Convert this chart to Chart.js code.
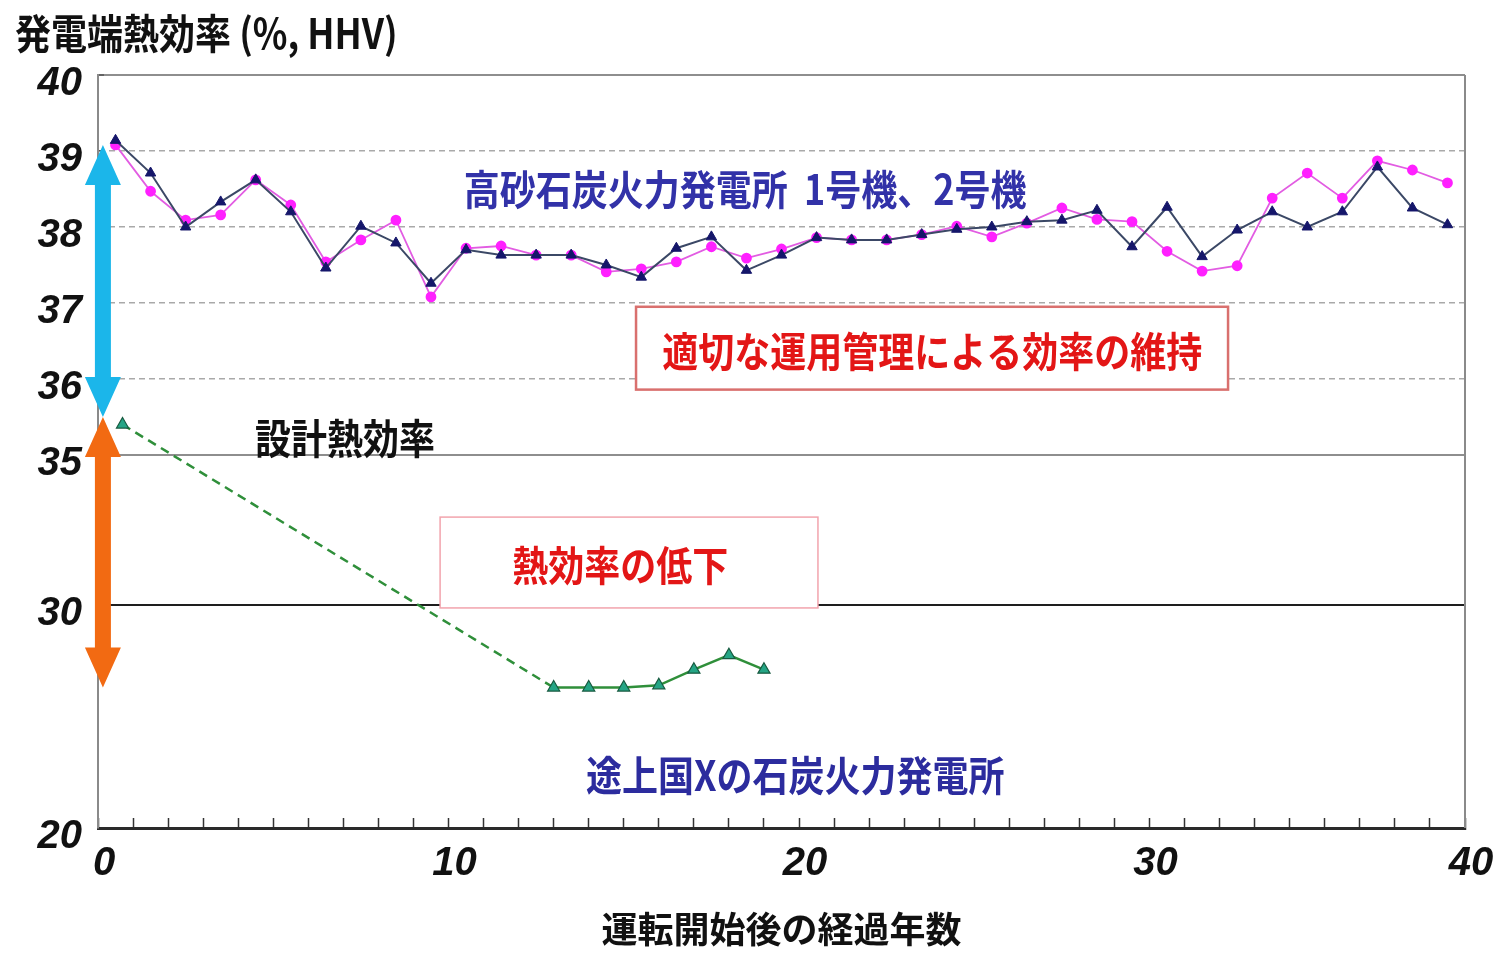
<!DOCTYPE html>
<html>
<head>
<meta charset="utf-8">
<script src="https://cdn.jsdelivr.net/npm/chart.js@4.4.1/dist/chart.umd.min.js"></script>
<style>
html,body{margin:0;padding:0;background:#fff;}
canvas{display:block;}
</style>
</head>
<body>
<canvas id="c" width="1504" height="953"></canvas>
<script>
// ---------------- data ----------------
const years = [0.5,1.5,2.5,3.5,4.5,5.5,6.5,7.5,8.5,9.5,10.5,11.5,12.5,13.5,14.5,15.5,16.5,17.5,18.5,19.5,
               20.5,21.5,22.5,23.5,24.5,25.5,26.5,27.5,28.5,29.5,30.5,31.5,32.5,33.5,34.5,35.5,36.5,37.5,38.5];
const takasagoUnit1 = [39.14,38.71,38.00,38.33,38.62,38.20,37.46,38.01,37.79,37.26,
                       37.70,37.63,37.63,37.63,37.50,37.34,37.72,37.87,37.43,37.63,
                       37.86,37.83,37.83,37.90,37.97,38.00,38.07,38.09,38.22,37.74,
                       38.26,37.61,37.96,38.20,38.00,38.20,38.79,38.25,38.03];
const takasagoUnit2 = [39.08,38.47,38.09,38.16,38.62,38.29,37.54,37.83,38.09,37.08,
                       37.72,37.75,37.63,37.63,37.41,37.45,37.54,37.74,37.59,37.71,
                       37.86,37.83,37.83,37.90,38.01,37.87,38.05,38.25,38.10,38.07,
                       37.68,37.42,37.49,38.38,38.71,38.38,38.87,38.75,38.58];
const devCountryYears  = [0.7, 13, 14, 15, 16, 17, 18, 19];
const devCountryValues = [35.4, 26.3, 26.3, 26.3, 26.4, 27.1, 27.75, 27.1];

const yTickValues = [20, 30, 35, 36, 37, 38, 39, 40];
const xTickValues = [0, 10, 20, 30, 39];
const xTickLabels = ['0', '10', '20', '30', '40'];

const yAxisTitle = '発電端熱効率 (%, HHV)';
const xAxisTitle = '運転開始後の経過年数';

// ---------------- broken (piecewise) y scale ----------------
const Y_BREAK_VALUES = [20, 30, 35, 40];
const Y_BREAK_FRACS  = [0, 0.2961, 0.4954, 1];

class BrokenLinearScale extends Chart.LinearScale {
  valueToFrac(v) {
    const bv = Y_BREAK_VALUES, bf = Y_BREAK_FRACS, n = bv.length - 1;
    if (v <= bv[0]) return bf[0] + (v - bv[0]) * (bf[1] - bf[0]) / (bv[1] - bv[0]);
    for (let i = 0; i < n; i++) {
      if (v <= bv[i + 1]) return bf[i] + (v - bv[i]) * (bf[i + 1] - bf[i]) / (bv[i + 1] - bv[i]);
    }
    return bf[n] + (v - bv[n]) * (bf[n] - bf[n - 1]) / (bv[n] - bv[n - 1]);
  }
  fracToValue(f) {
    const bv = Y_BREAK_VALUES, bf = Y_BREAK_FRACS, n = bv.length - 1;
    for (let i = 0; i < n; i++) {
      if (f <= bf[i + 1] || i === n - 1) return bv[i] + (f - bf[i]) * (bv[i + 1] - bv[i]) / (bf[i + 1] - bf[i]);
    }
    return bv[n];
  }
  getPixelForValue(value) {
    if (value === null || value === undefined || isNaN(value)) return NaN;
    return this.getPixelForDecimal(this.valueToFrac(value));
  }
  getValueForPixel(pixel) {
    return this.fracToValue(this.getDecimalForPixel(pixel));
  }
}
BrokenLinearScale.id = 'brokenLinear';
BrokenLinearScale.defaults = Chart.LinearScale.defaults;
Chart.register(BrokenLinearScale);

// ---------------- annotations ----------------
const CJK = "'Noto Sans CJK JP', 'Noto Sans', sans-serif";
const NUM = "'Liberation Sans', Arial, sans-serif";
const TEXT_STRETCH_Y = 1.15;

const noteBoxes = [
  { x0: 15.35, x1: 32.24, y0: 35.86, y1: 36.95, border: '#d9706e', width: 2.5 },
  { x0: 9.76,  x1: 20.54, y0: 29.87, y1: 32.93, border: '#f2a4ad', width: 1.5 }
];
const noteTexts = [
  { text: '高砂石炭火力発電所  1号機、2号機', x: 18.46, y: 38.49, color: '#3232a8' },
  { text: '適切な運用管理による効率の維持', x: 23.8, y: 36.36, color: '#e31616' },
  { text: '設計熱効率', x: 7.05, y: 35.22, color: '#111111' },
  { text: '熱効率の低下', x: 14.9, y: 31.33, color: '#e31616' },
  { text: '途上国Xの石炭火力発電所', x: 19.89, y: 22.38, color: '#2c2c9e' }
];
const arrows = [
  { x: 0.14, from: 39.08, to: 35.5, color: '#1bb6ea' },
  { x: 0.14, from: 35.5,  to: 26.3, color: '#f26a12' }
];

function drawDoubleArrow(ctx, xp, yTop, yBot, color) {
  const hw = 18, hl = 40, sw = 8;
  ctx.fillStyle = color;
  ctx.beginPath();
  ctx.moveTo(xp, yTop);
  ctx.lineTo(xp + hw, yTop + hl);
  ctx.lineTo(xp + sw, yTop + hl);
  ctx.lineTo(xp + sw, yBot - hl);
  ctx.lineTo(xp + hw, yBot - hl);
  ctx.lineTo(xp, yBot);
  ctx.lineTo(xp - hw, yBot - hl);
  ctx.lineTo(xp - sw, yBot - hl);
  ctx.lineTo(xp - sw, yTop + hl);
  ctx.lineTo(xp - hw, yTop + hl);
  ctx.closePath();
  ctx.fill();
}

function stretchedText(ctx, text, xp, yp) {
  ctx.save();
  ctx.translate(xp, yp);
  ctx.scale(1, TEXT_STRETCH_Y);
  ctx.fillText(text, 0, 0);
  ctx.restore();
}

const annotationPlugin = {
  id: 'annotations',
  beforeDatasetsDraw(chart) {
    const { ctx, chartArea, scales: { x, y } } = chart;
    ctx.save();
    // right frame line
    ctx.strokeStyle = '#8a8a8a';
    ctx.lineWidth = 2;
    ctx.beginPath();
    ctx.moveTo(chartArea.right, chartArea.top);
    ctx.lineTo(chartArea.right, chartArea.bottom);
    ctx.stroke();
    // boxes
    for (const b of noteBoxes) {
      const l = x.getPixelForValue(b.x0), r = x.getPixelForValue(b.x1);
      const t = y.getPixelForValue(b.y1), bt = y.getPixelForValue(b.y0);
      ctx.fillStyle = '#ffffff';
      ctx.fillRect(l, t, r - l, bt - t);
      ctx.strokeStyle = b.border;
      ctx.lineWidth = b.width;
      ctx.strokeRect(l, t, r - l, bt - t);
    }
    // texts
    ctx.textAlign = 'center';
    ctx.textBaseline = 'middle';
    ctx.font = "bold 36px " + CJK;
    for (const n of noteTexts) {
      ctx.fillStyle = n.color;
      stretchedText(ctx, n.text, x.getPixelForValue(n.x), y.getPixelForValue(n.y));
    }
    ctx.restore();
  },
  afterDatasetsDraw(chart) {
    const { ctx, scales: { x, y } } = chart;
    ctx.save();
    for (const a of arrows) {
      drawDoubleArrow(ctx, x.getPixelForValue(a.x), y.getPixelForValue(a.from), y.getPixelForValue(a.to), a.color);
    }
    ctx.restore();
  },
  afterDraw(chart) {
    const { ctx } = chart;
    ctx.save();
    ctx.font = "bold 36px " + CJK;
    ctx.fillStyle = '#111111';
    ctx.textAlign = 'left';
    ctx.textBaseline = 'middle';
    stretchedText(ctx, yAxisTitle, 15, 33);
    ctx.restore();
  }
};

// ---------------- chart ----------------
const toPoints = (xs, ys) => xs.map((v, i) => ({ x: v, y: ys[i] }));
const xMinorTicks = Array.from({ length: 40 }, (_, i) => ({ value: i }));

new Chart(document.getElementById('c'), {
  type: 'line',
  data: {
    datasets: [
      {
        label: '高砂 1号機',
        data: toPoints(years, takasagoUnit1),
        borderColor: '#3b4866',
        borderWidth: 2,
        pointStyle: 'triangle',
        pointRadius: 6,
        pointBackgroundColor: '#15166a',
        pointBorderColor: '#15166a',
        pointBorderWidth: 1,
        tension: 0
      },
      {
        label: '高砂 2号機',
        data: toPoints(years, takasagoUnit2),
        borderColor: '#e25ce2',
        borderWidth: 1.8,
        pointStyle: 'circle',
        pointRadius: 4.5,
        pointBackgroundColor: '#ff20ff',
        pointBorderColor: '#ff20ff',
        tension: 0
      },
      {
        label: '途上国X',
        data: toPoints(devCountryYears, devCountryValues),
        borderColor: '#2f8f3a',
        borderWidth: 2.5,
        pointStyle: 'triangle',
        pointRadius: 7,
        pointBackgroundColor: '#25a585',
        pointBorderColor: '#175a40',
        pointBorderWidth: 1.2,
        tension: 0,
        segment: {
          borderDash: ctx => ctx.p0DataIndex === 0 ? [9, 6] : undefined
        }
      }
    ]
  },
  options: {
    responsive: false,
    animation: false,
    events: [],
    layout: { padding: { top: 75, right: 39, left: 0, bottom: 0 } },
    plugins: { legend: { display: false }, tooltip: { enabled: false }, title: { display: false } },
    scales: {
      x: {
        type: 'linear',
        min: 0,
        max: 39,
        afterBuildTicks: s => { s.ticks = xMinorTicks.map(t => ({ value: t.value })); },
        afterFit: s => { s.height = 125; s.paddingLeft = 0; s.paddingRight = 0; },
        ticks: {
          autoSkip: false,
          maxRotation: 0,
          minRotation: 0,
          padding: 22,
          labelOffset: 6,
          color: '#111',
          font: { family: NUM, size: 40, style: 'italic', weight: 'bold' },
          callback: v => { const k = xTickValues.indexOf(v); return k >= 0 ? xTickLabels[k] : ''; }
        },
        grid: { drawOnChartArea: false, drawTicks: true, tickLength: -10, tickColor: '#333', tickWidth: 1.5 },
        border: { color: '#2a2a2a', width: 3 },
        title: {
          display: true,
          text: xAxisTitle,
          color: '#111',
          font: { family: CJK, size: 36, weight: 'bold' },
          padding: { top: 0, bottom: 2 }
        }
      },
      y: {
        type: 'brokenLinear',
        min: 20,
        max: 40,
        afterBuildTicks: s => { s.ticks = yTickValues.map(v => ({ value: v })); },
        afterFit: s => { s.width = 98; s.paddingTop = 0; s.paddingBottom = 0; },
        ticks: {
          padding: 22,
          labelOffset: 9,
          color: '#111',
          font: { family: NUM, size: 40, style: 'italic', weight: 'bold' },
          callback: v => String(v)
        },
        grid: {
          color: ctx => {
            const v = ctx.tick ? ctx.tick.value : null;
            if (v === 30) return '#1e1e1e';
            if (v === 35 || v === 40) return '#8e8e8e';
            if (v === 20) return '#2a2a2a';
            return '#a9a9a9';
          },
          lineWidth: ctx => {
            const v = ctx.tick ? ctx.tick.value : null;
            if (v === 30 || v === 35 || v === 40) return 2;
            return 1.5;
          },
          drawTicks: true,
          tickLength: -6,
          tickColor: '#555',
          tickWidth: 1.5
        },
        border: {
          color: '#8a8a8a',
          width: 2,
          dash: ctx => (ctx.tick && ctx.tick.value > 35 && ctx.tick.value < 40) ? [6, 4] : []
        }
      }
    }
  },
  plugins: [annotationPlugin]
});
</script>
</body>
</html>
